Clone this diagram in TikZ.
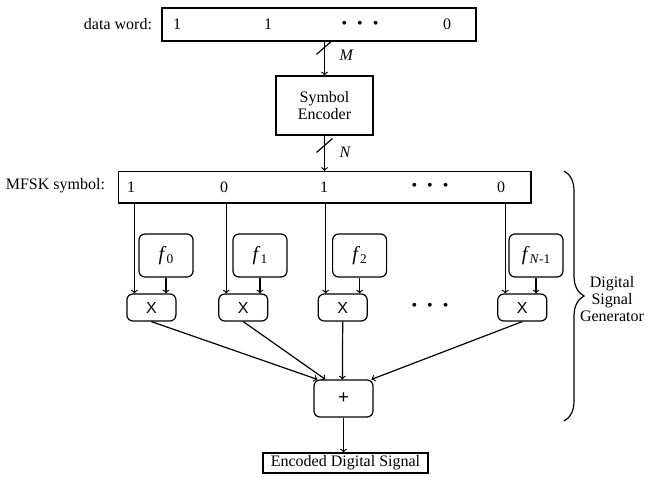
\documentclass[tikz,border=0pt]{standalone}
\usepackage{fontspec}
\setmainfont{Liberation Serif}
\newfontfamily\opfont{Liberation Sans}
\usetikzlibrary{calc,decorations.pathreplacing}

\newcommand{\fsym}[1]{{\fontsize{15}{15}\selectfont\textit{f}}{\fontsize{10}{10}\selectfont\raisebox{-0.5ex}{#1}}}
\newcommand{\bdots}{\textbullet\hspace{7.5pt}\textbullet\hspace{7.5pt}\textbullet}

\begin{document}
\begin{tikzpicture}[x=0.75pt, y=-0.75pt, font=\fontsize{12}{12.75}\selectfont,
    line width=0.9pt, >=to,
    wordbox/.style={draw, inner sep=0pt},
    opbox/.style={draw, rounded corners=4.5pt, inner sep=0pt}]
  \useasboundingbox (0,0) rectangle (652,483);

  %% data word and encoder
  \node[wordbox, minimum width=235.5pt, minimum height=24.75pt] (dword) at (319,24.5) {};
  \node[anchor=east] (dwordlbl) at (157,24.5) {data word:};
  \foreach \x/\t [count=\k] in {177/1, 268/1, 360/\bdots, 447/0} {
    \node (dbit\k) at (\x,24.5) {\t}; }

  \node[wordbox, minimum width=72.75pt, minimum height=44.25pt, align=center]
      (enc) at (324.5,105.5) {Symbol\\Encoder};

  \draw[->] (enc.north |- dword.south) -- coordinate[pos=0.17] (mcut) (enc.north);
  \draw ($(mcut)+(-8,7)$) -- ($(mcut)+(8,-7)$);
  \node[anchor=west] (mlbl) at ($(mcut)+(10,8)$) {\textit{M}};

  %% MFSK symbol register
  \node[wordbox, minimum width=309.4pt, minimum height=23.6pt] (mfsk) at (324.75,187.25) {};
  \node[anchor=east] (mfsklbl) at (110,186) {MFSK symbol:};
  \foreach \x/\t [count=\k] in {131/1, 224/0, 324/1, 430/\bdots, 501/0} {
    \node (sbit\k) at (\x,187) {\t}; }

  \draw[->] (enc.south) -- coordinate[pos=0.28] (ncut) (enc.south |- mfsk.north);
  \draw ($(ncut)+(-8,7)$) -- ($(ncut)+(8,-7)$);
  \node[anchor=west] (nlbl) at ($(ncut)+(10,7)$) {\textit{N}};

  %% tone generators and multipliers
  \foreach \i/\mx/\fx/\s in {0/151.4/166/0, 1/243.25/260/1, 2/342.7/359.6/2, 3/522.3/536/{\textit{N}-1}} {
    \node[opbox, minimum width=40.5pt, minimum height=32.25pt] (f\i) at (\fx,255.5) {\fsym{\s}};
    \node[opbox, minimum width=36.75pt, minimum height=20.25pt] (m\i) at (\mx,307.5) {\opfont X};
    \draw[->] ([xshift=-12.75pt]m\i.north |- mfsk.south) -- ([xshift=-12.75pt]m\i.north);
    \draw[->] (f\i.south) -- (f\i.south |- m\i.north);
  }
  \node (mdots) at (430,307) {\bdots};

  %% adder and output
  \node[opbox, minimum width=44.25pt, minimum height=27.75pt] (sum) at (343.5,398.5)
      {\opfont\fontsize{14}{14}\selectfont +};
  \foreach \i/\d in {0/3pt, 1/9pt, 2/21.75pt, 3/43.5pt} {
    \draw[->] (m\i.south) -- ([xshift=\d]sum.north west); }

  \node[wordbox, minimum width=123.75pt, minimum height=15pt] (out) at (345.5,463)
      {Encoded Digital Signal};
  \draw[->] (sum.south) -- (sum.south |- out.north);

  %% brace
  \draw[decorate, decoration={brace, amplitude=15pt}] (564,171) -- (564,421);
  \node[align=center] (dsg) at (612,299) {Digital\\Signal\\Generator};

\end{tikzpicture}
\end{document}
